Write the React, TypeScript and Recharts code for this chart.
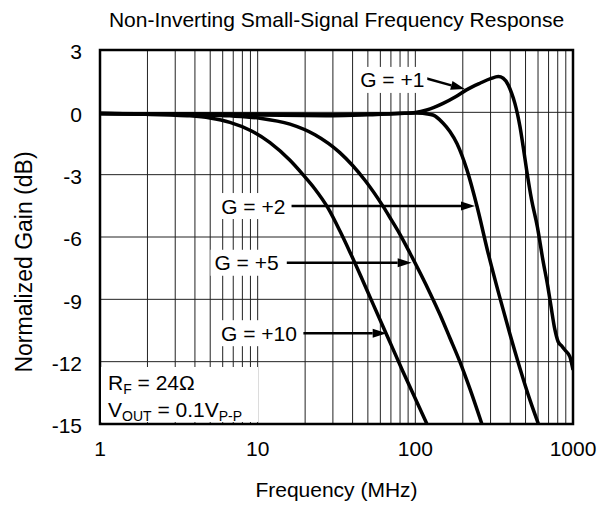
import React from 'react';
import {
    CartesianGrid,
    Line,
    LineChart,
    ReferenceArea,
    ReferenceDot,
    ReferenceLine,
    XAxis,
    YAxis,
} from 'recharts';

const FONT = '"Liberation Sans", Arial, Helvetica, sans-serif';

// axes
const xTicks = [1, 10, 100, 1000];
const yTicks = [-15, -12, -9, -6, -3, 0, 3];
const gridFreqs = [
    1, 2, 3, 4, 5, 6, 7, 8, 9, 10, 20, 30, 40, 50, 60, 70, 80, 90, 100, 200, 300,
    400, 500, 600, 700, 800, 900, 1000,
];

// G = +1
const g1Freq = [
    1, 2, 5, 10, 20, 30, 50, 80, 100, 118, 150, 180, 211, 257, 300, 336, 361, 388,
    408, 428, 445, 461, 483, 508, 546, 594, 644, 693, 724, 767, 805, 850, 889, 955, 1000,
];
const g1Gain = [
    -0.06, -0.08, -0.1, -0.13, -0.15, -0.16, -0.12, -0.06, -0.01, 0.11, 0.43, 0.75, 1.08,
    1.4, 1.62, 1.72, 1.64, 1.32, 0.92, 0.43, -0.1, -0.69, -1.65, -2.77, -4.2, -5.5, -7.1,
    -8.4, -9.3, -10.45, -11.04, -11.25, -11.44, -11.76, -12.4,
];

// G = +2
const g2Freq = [
    1, 3, 10, 30, 60, 100, 111.7, 129.3, 149.6, 165.7, 183.6, 212.5, 245.9, 288.4, 343.9,
    398, 460, 533, 603.5,
];
const g2Gain = [
    -0.06, -0.07, -0.08, -0.1, -0.07, -0.03, -0.05, -0.13, -0.51, -0.92, -1.5, -2.77, -4.51,
    -6.72, -8.93, -10.67, -12.3, -13.84, -15,
];

// G = +5
const g5Freq = [
    1, 2.08, 4.31, 6.67, 10.34, 16.03, 23.08, 33.2, 47.9, 62.6, 69, 79.9, 92.4, 123.8, 143.3,
    165.7, 191.8, 222, 264.3,
];
const g5Gain = [
    -0.06, -0.08, -0.12, -0.17, -0.28, -0.57, -1.08, -1.94, -3.27, -4.54, -5.06, -5.87, -6.77,
    -8.69, -9.73, -10.86, -12.01, -13.31, -15,
];

// G = +10
const g10Freq = [
    1, 2.08, 2.78, 3.72, 4.98, 6.67, 8.94, 11.97, 16.03, 19.37, 23.07, 27.9, 33.2, 38.5, 45.2,
    53.1, 66.1, 83.4, 118.5,
];
const g10Gain = [
    -0.06, -0.1, -0.13, -0.17, -0.27, -0.48, -0.86, -1.46, -2.31, -3.0, -3.69, -4.6, -5.7,
    -6.73, -7.9, -9.11, -10.74, -12.47, -15,
];

// annotations (data coordinates)
const tagText = ['G = +1', 'G = +2', 'G = +5', 'G = +10'];
const tagFreq = [71.4, 9.38, 8.5, 10.2];
const tagGain = [1.56, -4.51, -7.24, -10.63];
const tagWidth = [70, 72, 72, 84];
const arrowFrom: Array<[number, number]> = [
    [115, 1.65],
    [16.4, -4.51],
    [15.3, -7.24],
    [19.5, -10.63],
];
const arrowTo: Array<[number, number]> = [
    [206, 1.12],
    [239, -4.51],
    [94.8, -7.24],
    [65.8, -10.63],
];

const toRows = (f: number[], g: number[]) => f.map((v, i) => ({ f: v, g: g[i] }));
const series = [
    toRows(g1Freq, g1Gain),
    toRows(g2Freq, g2Gain),
    toRows(g5Freq, g5Gain),
    toRows(g10Freq, g10Gain),
];

const Arrow = (p: any) => {
    const { x1, y1, x2, y2 } = p;
    const a = Math.atan2(y2 - y1, x2 - x1);
    const len = 14;
    const half = 4.5;
    const bx = x2 - len * Math.cos(a);
    const by = y2 - len * Math.sin(a);
    const nx = -Math.sin(a) * half;
    const ny = Math.cos(a) * half;
    return (
        <g>
            <line x1={x1} y1={y1} x2={bx} y2={by} stroke="#000" strokeWidth={2.5} />
            <polygon
                points={`${x2},${y2} ${bx + nx},${by + ny} ${bx - nx},${by - ny}`}
                fill="#000"
            />
        </g>
    );
};

const tag = (text: string, w: number) => (p: any) => (
    <g>
        <rect x={p.cx - w / 2} y={p.cy - 13} width={w} height={26} fill="#fff" />
        <text
            x={p.cx}
            y={p.cy}
            dy="0.36em"
            textAnchor="middle"
            fontSize={21}
            fontFamily={FONT}
            fill="#000">
            {text}
        </text>
    </g>
);

const condBox = (p: any) => (
    <g fontFamily={FONT} fill="#000">
        <rect x={p.cx + 1} y={p.cy - 57} width={157} height={55} fill="#fff" />
        <text x={p.cx + 8} y={p.cy - 34} fontSize={21}>
            R
            <tspan fontSize={14} dy={4}>
                F
            </tspan>
            <tspan dy={-4}> = 24Ω</tspan>
        </text>
        <text x={p.cx + 8} y={p.cy - 7} fontSize={21}>
            V
            <tspan fontSize={14} dy={4}>
                OUT
            </tspan>
            <tspan dy={-4}> = 0.1V</tspan>
            <tspan fontSize={14} dy={4}>
                P-P
            </tspan>
        </text>
    </g>
);

export default function App() {
    return (
        <div style={{ position: 'absolute', left: 0, top: 0, background: '#fff' }}>
            <LineChart
                width={610}
                height={513}
                margin={{ top: 50, right: 37, bottom: 59, left: 40 }}
                style={{ fontFamily: FONT }}>
                <CartesianGrid
                    stroke="#222"
                    strokeWidth={1}
                    verticalValues={gridFreqs}
                    horizontalValues={yTicks}
                />
                <XAxis
                    dataKey="f"
                    type="number"
                    scale="log"
                    domain={[1, 1000]}
                    ticks={xTicks}
                    interval={0}
                    allowDataOverflow
                    height={30}
                    tickLine={false}
                    axisLine={false}
                    tickMargin={11}
                    tick={{ fontSize: 21, fill: '#000' }}
                />
                <YAxis
                    type="number"
                    domain={[-15, 3]}
                    ticks={yTicks}
                    interval={0}
                    allowDataOverflow
                    width={60}
                    tickLine={false}
                    axisLine={false}
                    tickMargin={12}
                    tick={{ fontSize: 21, fill: '#000', dy: 2 }}
                />
                {series.map((d, i) => (
                    <Line
                        key={i}
                        data={d}
                        dataKey="g"
                        type="monotone"
                        stroke="#000"
                        strokeWidth={3.5}
                        dot={false}
                        activeDot={false}
                        isAnimationActive={false}
                    />
                ))}
                {tagText.map((t, i) => (
                    <ReferenceDot
                        key={'t' + i}
                        x={tagFreq[i]}
                        y={tagGain[i]}
                        ifOverflow="visible"
                        shape={tag(t, tagWidth[i])}
                    />
                ))}
                {arrowFrom.map((a, i) => (
                    <ReferenceLine
                        key={'a' + i}
                        segment={[
                            { x: a[0], y: a[1] },
                            { x: arrowTo[i][0], y: arrowTo[i][1] },
                        ]}
                        ifOverflow="visible"
                        shape={Arrow}
                    />
                ))}
                <ReferenceDot x={1} y={-15} ifOverflow="visible" shape={condBox} />
                <ReferenceArea
                    x1={1}
                    x2={1000}
                    y1={-15}
                    y2={3}
                    fill="none"
                    stroke="#000"
                    strokeWidth={2.5}
                    ifOverflow="visible"
                />
                <text x={336.5} y={27} textAnchor="middle" fontSize={21} fill="#000">
                    Non-Inverting Small-Signal Frequency Response
                </text>
                <text x={336.5} y={497} textAnchor="middle" fontSize={21} fill="#000">
                    Frequency (MHz)
                </text>
                <text
                    x={32}
                    y={262}
                    textAnchor="middle"
                    fontSize={23}
                    fill="#000"
                    transform="rotate(-90, 32, 262)">
                    Normalized Gain (dB)
                </text>
            </LineChart>
        </div>
    );
}
